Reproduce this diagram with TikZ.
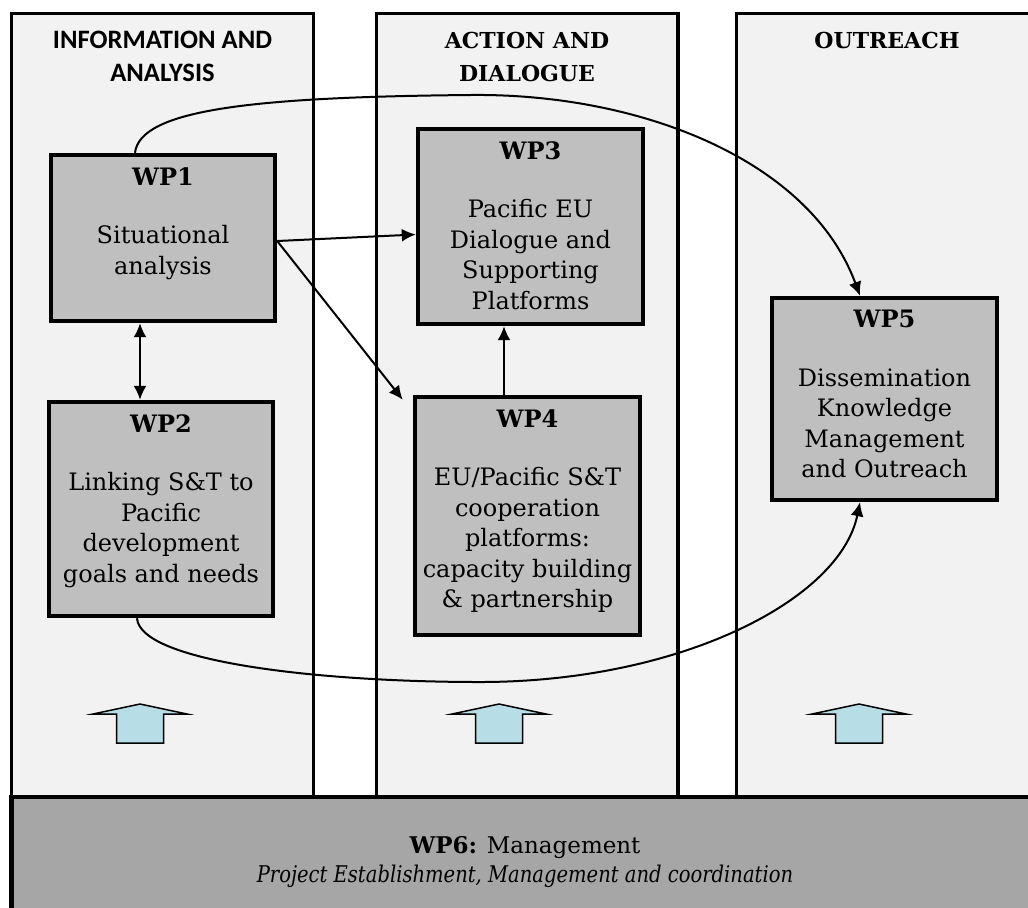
\documentclass[tikz,border=0pt]{standalone}
\usepackage{fontspec}
\setmainfont{DejaVu Serif}
\newfontfamily\headsans{Carlito}
\newfontfamily\mgmtnarrow{DejaVu Serif}[FakeStretch=0.85]
\usetikzlibrary{arrows.meta,positioning,calc}

\definecolor{colfill}{HTML}{F2F2F2}
\definecolor{wpfill}{HTML}{BFBFBF}
\definecolor{mgmtfill}{HTML}{A6A6A6}
\definecolor{liftfill}{RGB}{183,221,230}

\tikzset{
  >={Latex[length=7pt,width=6.5pt]},
  column/.style={draw, fill=colfill, line width=1.6pt},
  wpbox/.style={draw, fill=wpfill, line width=2.2pt, inner sep=0pt},
  wptext/.style={align=center, inner sep=0pt, font=\fontsize{12}{15.25}\selectfont},
  colhead/.style={align=center, inner sep=0pt, font=\fontsize{11}{16.5}\selectfont\bfseries},
  link/.style={line width=1pt, ->},
  lift/.style={draw, fill=liftfill, line width=0.75pt},
}

\begin{document}
\begin{tikzpicture}[x=0.5pt, y=-0.5pt]
            \useasboundingbox (0,0) rectangle (1028,907);
            \clip (0,0) rectangle (1028,907);

            % the three columns and the management bar
            \draw[column] (11.5,13.5) rectangle (313.5,797);
            \draw[column] (376.5,13.5) rectangle (678,797);
            \draw[column] (736.5,13.5) rectangle (1040,797);
            \draw[line width=2.2pt, fill=mgmtfill] (11.5,797) rectangle (1040,930);

            \node (headinfo) at (162.5,56.5)[colhead, font=\fontsize{13.3}{16.5}\selectfont\headsans\bfseries]
            {INFORMATION AND\\ANALYSIS};
            \node (headaction) at (527,56.5)[colhead] {ACTION AND\\DIALOGUE};
            \node (headout) at (887,40)[colhead] {OUTREACH};

            % work packages
            \node (wp1) at (163,238)[wpbox, minimum width=112pt, minimum height=83pt] {};
            \node (wp2) at (161,509)[wpbox, minimum width=112pt, minimum height=107pt] {};
            \node (wp3) at (530.5,226.5)[wpbox, minimum width=112.5pt, minimum height=97.5pt] {};
            \node (wp4) at (527.5,516)[wpbox, minimum width=112.5pt, minimum height=119pt] {};
            \node (wp5) at (884.5,399)[wpbox, minimum width=112.5pt, minimum height=101pt] {};

            \node (wp1t) at (wp1.north)[wptext, below=7pt]
            {\textbf{WP1}\\[14pt]Situational\\analysis};
            \node (wp2t) at (wp2.north)[wptext, below=7pt]
            {\textbf{WP2}\\[14pt]Linking S\&T to\\Pacific\\development\\goals and needs};
            \node (wp3t) at (wp3.north)[wptext, below=7pt]
            {\textbf{WP3}\\[14pt]Pacific EU\\Dialogue and\\Supporting\\Platforms};
            \node (wp4t) at (wp4.north)[wptext, below=7pt]
            {\textbf{WP4}\\[14pt]EU/Pacific S\&T\\cooperation\\platforms:\\capacity building\\\& partnership};
            \node (wp5t) at (wp5.north)[wptext, below=7pt]
            {\textbf{WP5}\\[14pt]Dissemination\\Knowledge\\Management\\and Outreach};

            \node (wp6t) at (525,862)[wptext, font=\fontsize{11.5}{14.5}\selectfont]
            {\textbf{WP6:} Management\\{\mgmtnarrow\itshape Project Establishment, Management and coordination}};

            % links between work packages
            \coordinate (dbl) at (140,360);
            \coordinate (up) at (504,360);
            \draw[link, <->] (wp1.south -| dbl) -- (wp2.north -| dbl);
            \draw[link] (wp4.north -| up) -- (wp3.south -| up);
            \draw[link] ([yshift=-1.5pt]wp1.east) -- ([yshift=-4pt]wp3.west);
            \draw[link] ([yshift=-1.5pt]wp1.east) -- ([xshift=-5pt, yshift=-2.5pt]wp4.north west);
            \draw[link] ([xshift=-14pt]wp1.north) .. controls (140,110) and (250,97) .. (470,95)
                .. controls (640,93) and (810,160) .. ([xshift=-12.25pt]wp5.north);
            \draw[link] ([xshift=-12pt]wp2.south) .. controls (140,662) and (320,682) .. (480,682)
                .. controls (680,682) and (840,600) .. ([xshift=-12.25pt]wp5.south);

            % block arrows standing on the management bar
            \foreach \cx in {140, 499, 859}
            \draw[lift] (\cx-23.5,743) -- (\cx+23.5,743) -- (\cx+23.5,714) -- (\cx+47,714)
                -- (\cx,704) -- (\cx-47,714) -- (\cx-23.5,714) -- cycle;
        \end{tikzpicture}
\end{document}
